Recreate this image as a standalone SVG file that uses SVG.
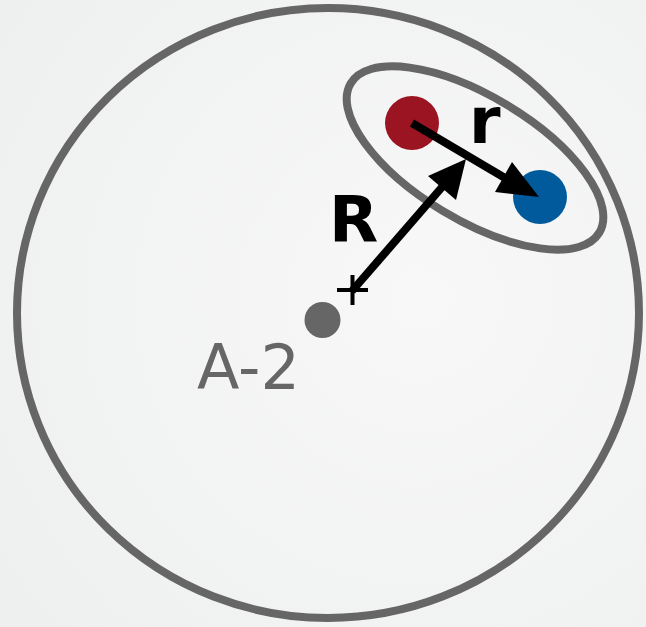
<svg xmlns="http://www.w3.org/2000/svg" width="646" height="627" viewBox="0 0 646 627">
<defs>
<radialGradient id="bg" cx="420" cy="300" r="520" gradientUnits="userSpaceOnUse">
<stop offset="0" stop-color="#f8f8f8"/>
<stop offset="1" stop-color="#eeefef"/>
</radialGradient>
<style>
.ring{fill:none;stroke:#666666;stroke-width:8}
.arrow{stroke:#000;stroke-width:8;fill:none}
.head{fill:#000}
.lbl{font-family:"DejaVu Sans",sans-serif;font-weight:bold;font-size:64px;fill:#000}
.name{font-family:"DejaVu Sans",sans-serif;font-size:62px;fill:#666666}
</style>
</defs>
<rect width="646" height="627" fill="url(#bg)"/>
<g id="outer">
<ellipse class="ring" cx="328" cy="313" rx="311" ry="305"/>
</g>
<g id="pair">
<ellipse class="ring" cx="475" cy="158" rx="145" ry="62" transform="rotate(31 475 158)"/>
</g>
<g id="red">
<circle cx="412" cy="123" r="27" fill="#9a1422"/>
</g>
<g id="blue">
<circle cx="540" cy="197" r="27" fill="#005a9c"/>
</g>
<g id="center">
<circle cx="322.5" cy="320" r="18" fill="#666666"/>
<text class="name" x="197" y="389">A-2</text>
</g>
<g id="connectors">
<line class="arrow" x1="412" y1="123" x2="505" y2="178"/>
<polygon class="head" points="539,197 495,192 512,162"/>
<line class="arrow" x1="352" y1="291" x2="443" y2="186"/>
<polygon class="head" points="466,159 456,200 428,176"/>
<line x1="337" y1="290" x2="368" y2="290" stroke="#000" stroke-width="4"/>
<line x1="352.5" y1="275" x2="352.5" y2="305" stroke="#000" stroke-width="4"/>
</g>
<g id="labels">
<text class="lbl" x="329" y="242">R</text>
<text class="lbl" x="469" y="143">r</text>
</g>
</svg>
